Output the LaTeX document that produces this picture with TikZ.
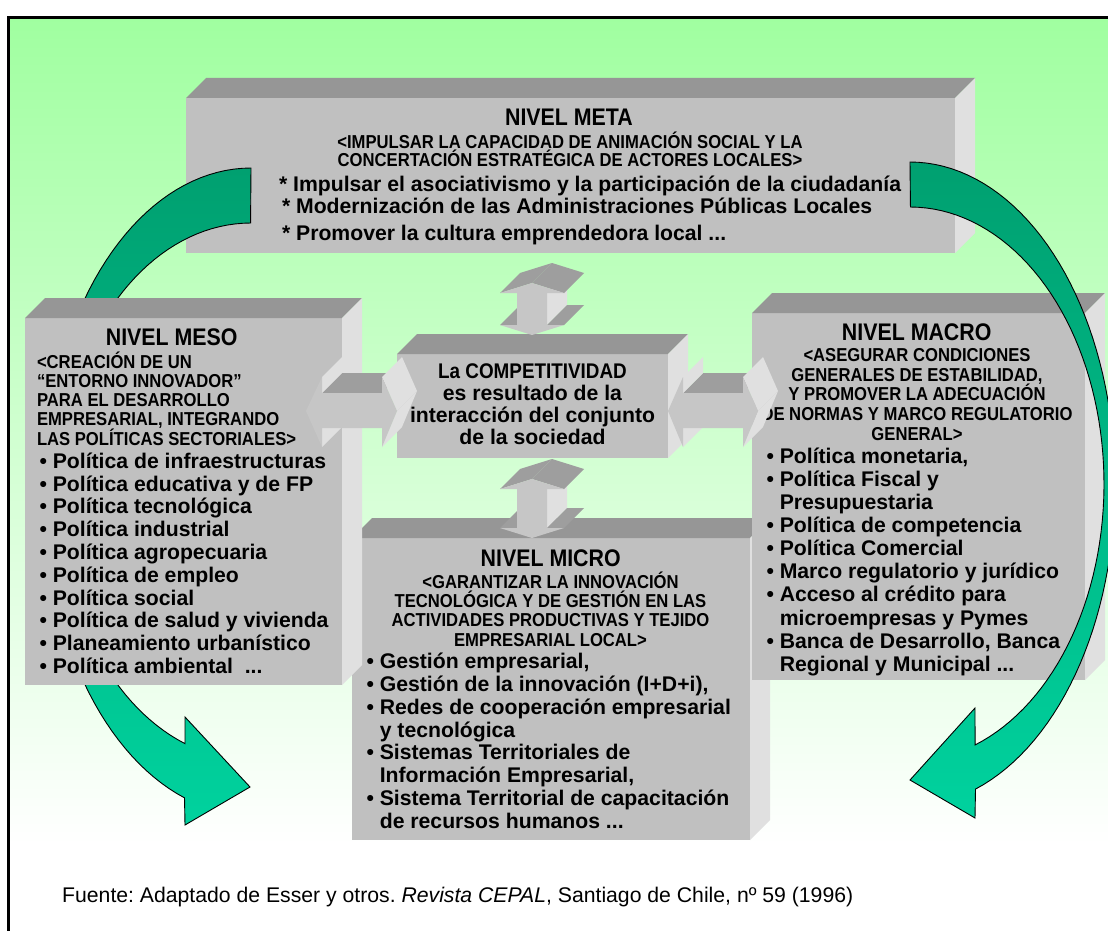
\documentclass[tikz,border=0pt]{standalone}
\usepackage{fontspec}
\setmainfont{Liberation Sans}
\newfontfamily\capsfont[FakeStretch=0.89]{Liberation Sans}
\frenchspacing
\definecolor{bgtop}{RGB}{160,255,160}
\definecolor{boxfront}{RGB}{192,192,192}
\definecolor{boxtop}{RGB}{150,150,150}
\definecolor{boxside}{RGB}{224,224,224}
\definecolor{afront}{RGB}{198,198,198}
\definecolor{adark}{RGB}{158,158,158}
\definecolor{alight}{RGB}{224,224,224}
\definecolor{gtop}{RGB}{0,160,112}
\definecolor{gbot}{RGB}{0,210,158}
\newcommand\threedots{...}
\newcommand\boxthreed[5]{%
  \node[frontface, minimum width=#4pt, minimum height=#5pt] (#1) at (#2,#3) {};
  \fill[topface] (#1.north west) -- ++(20,-20) -- ([shift={(20,-20)}]#1.north east) -- (#1.north east) -- cycle;
  \fill[sideface] (#1.north east) -- ++(20,-20) -- ([shift={(20,-20)}]#1.south east) -- (#1.south east) -- cycle;
}
\begin{document}
\begin{tikzpicture}[x=1pt,y=-1pt,
  frontface/.style={fill=boxfront, draw=none, inner sep=0pt, outer sep=0pt, rectangle},
  topface/.style={fill=boxtop},
  sideface/.style={fill=boxside},
  arrfront/.style={fill=afront},
  arrdark/.style={fill=adark},
  arrlight/.style={fill=alight},
  bodytext/.style={font=\bfseries\fontsize{21.2}{22.8}\selectfont, inner sep=0pt, outer sep=0pt},
  captext/.style={font=\capsfont\bfseries\fontsize{18.7}{19.5}\selectfont, inner sep=0pt, outer sep=0pt},
  titletext/.style={font=\capsfont\bfseries\fontsize{24}{26}\selectfont, inner sep=0pt, outer sep=0pt},
  greenarrow/.style={draw=black, line width=0.9pt, top color=gtop, bottom color=gbot}
]
\useasboundingbox (0,0) rectangle (1108,931);
\fill[white] (0,0) rectangle (1108,931);
\shade[top color=bgtop, bottom color=white] (8,17) rectangle (1108,845);
\draw[line width=3pt] (8.5,950) -- (8.5,17.5) -- (1120,17.5);

% ---------- NIVEL META ----------
\boxthreed{meta}{570.5}{175.5}{769}{155}
\node[titletext, anchor=base] (metaT) at (569,125) {NIVEL META};
\node[captext, anchor=base] (metaS1) at (570,148.3) {<IMPULSAR LA CAPACIDAD DE ANIMACIÓN SOCIAL Y LA};
\node[captext, anchor=base] (metaS2) at (570,166.7) {CONCERTACIÓN ESTRATÉGICA DE ACTORES LOCALES>};
\node[bodytext, anchor=base west] (metaB1) at (279,191.7) {* Impulsar el asociativismo y la participación de la ciudadanía};
\node[bodytext, anchor=base west] (metaB2) at (282,213.3) {* Modernización de las Administraciones Públicas Locales};
\node[bodytext, anchor=base west] (metaB3) at (282,240) {* Promover la cultura emprendedora local \threedots};

% ---------- left curved arrow (behind MESO) ----------
\path[greenarrow] (251,168)
  -- plot[domain=0:1, samples=70, variable=\pp] ({251+207*cos(270-161.4*\pp)},{491.5+323.5*sin(270-161.4*\pp)})
  -- (185,825) -- (250,787) -- (185,717)
  -- plot[domain=0:1, samples=70, variable=\pp] ({251+192*cos(110.1+159.9*\pp)},{491.5+268.5*sin(110.1+159.9*\pp)})
  -- cycle;

% ---------- centre ----------
\boxthreed{comp}{532.5}{406}{271}{104}
\node[captext, font=\capsfont\bfseries\fontsize{21.2}{22}\selectfont, anchor=base] (compL1) at (532.5,378.3) {La COMPETITIVIDAD};
\node[bodytext, anchor=base] (compL2) at (532.5,400.5) {es resultado de la};
\node[bodytext, anchor=base] (compL3) at (532.5,422.7) {interacción del conjunto};
\node[bodytext, anchor=base] (compL4) at (532.5,444.9) {de la sociedad};

% ---------- NIVEL MICRO ----------
\boxthreed{micro}{551}{689}{398}{302}
\node[titletext, anchor=base] (microT) at (550.7,566) {NIVEL MICRO};
\foreach \txt [count=\i] in {{<GARANTIZAR LA INNOVACIÓN},{TECNOLÓGICA Y DE GESTIÓN EN LAS},{ACTIVIDADES PRODUCTIVAS Y TEJIDO},{EMPRESARIAL LOCAL>}}
  {\node[captext, anchor=base] (microS\i) at (550.5,{588.3+19.25*(\i-1)}) {\txt};}
\foreach \txt [count=\i] in {{• Gestión empresarial,},{• Gestión de la innovación (I+D+i),},{• Redes de cooperación empresarial},{\phantom{• }y tecnológica},{• Sistemas Territoriales de},{\phantom{• }Información Empresarial,},{• Sistema Territorial de capacitación},{\phantom{• }de recursos humanos \threedots}}
  {\node[bodytext, anchor=base west] (microB\i) at (366.5,{668.3+22.9*(\i-1)}) {\txt};}

% ---------- NIVEL MESO ----------
\boxthreed{meso}{183.5}{501.5}{317}{367}
\node[titletext, anchor=base] (mesoT) at (171.7,345) {NIVEL MESO};
\foreach \txt [count=\i] in {{<CREACIÓN DE UN},{“ENTORNO INNOVADOR”},{PARA EL DESARROLLO},{EMPRESARIAL, INTEGRANDO},{LAS POLÍTICAS SECTORIALES>}}
  {\node[captext, anchor=base west] (mesoS\i) at (37,{368.3+19.2*(\i-1)}) {\txt};}
\foreach \txt [count=\i] in {{• Política de infraestructuras},{• Política educativa y de FP},{• Política tecnológica},{• Política industrial},{• Política agropecuaria},{• Política de empleo},{• Política social},{• Política de salud y vivienda},{• Planeamiento urbanístico},{• Política ambiental~~\threedots}}
  {\node[bodytext, anchor=base west] (mesoB\i) at (39.5,{468.3+22.8*(\i-1)}) {\txt};}

% ---------- NIVEL MACRO ----------
\boxthreed{macro}{918.5}{496.5}{333}{367}
\node[titletext, anchor=base] (macroT) at (916.7,340) {NIVEL MACRO};
\foreach \txt [count=\i] in {{<ASEGURAR CONDICIONES},{GENERALES DE ESTABILIDAD,},{Y PROMOVER LA ADECUACIÓN},{DE NORMAS Y MARCO REGULATORIO},{GENERAL>}}
  {\node[captext, anchor=base] (macroS\i) at (917,{361.7+19.6*(\i-1)}) {\txt};}
\foreach \txt [count=\i] in {{• Política monetaria,},{• Política Fiscal y},{\phantom{• }Presupuestaria},{• Política de competencia},{• Política Comercial},{• Marco regulatorio y jurídico},{• Acceso al crédito para},{\phantom{• }microempresas y Pymes},{• Banca de Desarrollo, Banca},{\phantom{• }Regional y Municipal \threedots}}
  {\node[bodytext, anchor=base west] (macroB\i) at (766.5,{463.3+23.1*(\i-1)}) {\txt};}

% ---------- right curved arrow (in front of MACRO) ----------
\path[greenarrow] (910,162)
  -- plot[domain=0:1, samples=70, variable=\pp] ({910+205*cos(270+161.5*\pp)},{484+322*sin(270+161.5*\pp)})
  -- (975,818) -- (910,780) -- (975,708)
  -- plot[domain=0:1, samples=70, variable=\pp] ({910+194*cos(430.4-160.4*\pp)},{484+277*sin(430.4-160.4*\pp)})
  -- cycle;

% ---------- 3D double arrows ----------
% meta <-> centre
\fill[arrlight] (547,293) -- (547,325) -- (567,305) -- (567,273) -- cycle;
\fill[arrdark] (500,293) -- (532,283) -- (552,263) -- (520,273) -- cycle;
\fill[arrdark] (532,283) -- (564,293) -- (584,273) -- (552,263) -- cycle;
\fill[arrdark] (547,325) -- (564,325) -- (584,305) -- (567,305) -- cycle;
\fill[arrdark] (500,325) -- (517,325) -- (537,305) -- (520,305) -- cycle;
\fill[arrfront] (532,283) -- (564,293) -- (547,293) -- (547,325) -- (564,325) -- (532,335) -- (500,325) -- (517,325) -- (517,293) -- (500,293) -- cycle;
% centre <-> micro
\fill[arrlight] (547,489) -- (547,528) -- (567,508) -- (567,469) -- cycle;
\fill[arrdark] (500,489) -- (532,479) -- (552,459) -- (520,469) -- cycle;
\fill[arrdark] (532,479) -- (564,489) -- (584,469) -- (552,459) -- cycle;
\fill[arrdark] (547,528) -- (564,528) -- (584,508) -- (567,508) -- cycle;
\fill[arrdark] (500,528) -- (517,528) -- (537,508) -- (520,508) -- cycle;
\fill[arrfront] (532,479) -- (564,489) -- (547,489) -- (547,528) -- (564,528) -- (532,538) -- (500,528) -- (517,528) -- (517,489) -- (500,489) -- cycle;
% meso <-> centre
\fill[arrdark] (322,393) -- (382,393) -- (402,373) -- (342,373) -- cycle;
\fill[arrlight] (322,377) -- (322,393) -- (342,373) -- (342,357) -- cycle;
\fill[arrlight] (322,428) -- (322,447) -- (342,427) -- (342,408) -- cycle;
\fill[arrlight] (382,377) -- (397,411) -- (417,391) -- (402,357) -- cycle;
\fill[arrlight] (397,411) -- (382,447) -- (402,427) -- (417,391) -- cycle;
\fill[arrfront] (306,411) -- (322,377) -- (322,393) -- (382,393) -- (382,377) -- (397,411) -- (382,447) -- (382,428) -- (322,428) -- (322,447) -- cycle;
% centre <-> macro
\fill[arrdark] (683,393) -- (743,393) -- (763,373) -- (703,373) -- cycle;
\fill[arrlight] (683,377) -- (683,393) -- (703,373) -- (703,357) -- cycle;
\fill[arrlight] (683,428) -- (683,447) -- (703,427) -- (703,408) -- cycle;
\fill[arrlight] (743,377) -- (758,411) -- (778,391) -- (763,357) -- cycle;
\fill[arrlight] (758,411) -- (743,447) -- (763,427) -- (778,391) -- cycle;
\fill[arrfront] (668,411) -- (683,377) -- (683,393) -- (743,393) -- (743,377) -- (758,411) -- (743,447) -- (743,428) -- (683,428) -- (683,447) -- cycle;

% ---------- source ----------
\node[anchor=base west, inner sep=0pt, font=\fontsize{21.2}{24}\selectfont] (fuente) at (62,902) {Fuente: Adaptado de Esser y otros. \textit{Revista CEPAL}, Santiago de Chile, nº 59 (1996)};
\end{tikzpicture}
\end{document}
